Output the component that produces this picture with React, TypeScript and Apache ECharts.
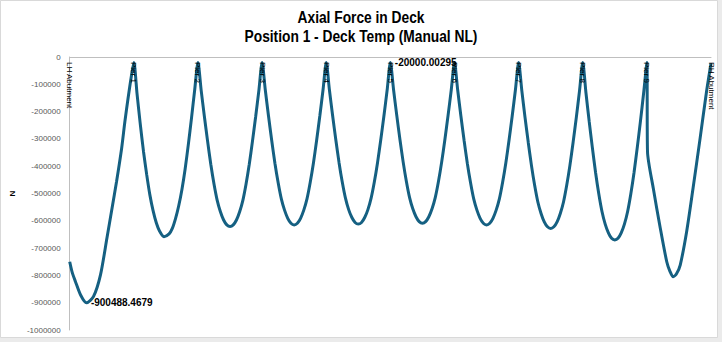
import React, { useEffect, useRef } from "react";
import * as echarts from "echarts";

const titleLines = ["Axial Force in Deck", "Position 1 - Deck Temp (Manual NL)"];
const supportLabels = [
  "LH Abutment", "Pier 1", "Pier 2", "Pier 3", "Pier 4", "Pier 5",
  "Pier 6", "Pier 7", "Pier 8", "Pier 9", "RH Abutment",
];
const yTicks = [0, -100000, -200000, -300000, -400000, -500000, -600000, -700000, -800000, -900000, -1000000];

// [station (span units), axial force N]
const span1 = [
  [0, -750000], [0.04, -790000], [0.09, -823000], [0.17, -872000], [0.26, -900488.4679],
  [0.37, -878000], [0.48, -798000], [0.58, -664000], [0.66, -554000], [0.73, -457000],
  [0.81, -334000], [0.86, -237000], [0.91, -151000], [0.96, -72000], [1.0, -20100],
];
const span2 = [
  [1.05, -135000], [1.1, -245000], [1.15, -345000], [1.2, -430000], [1.25, -505000],
  [1.3, -563000], [1.35, -607000], [1.4, -637000], [1.47, -658000], [1.55, -648000],
  [1.6, -628000], [1.65, -592000], [1.7, -545000], [1.75, -485000], [1.8, -410000],
  [1.85, -320000], [1.9, -222000], [1.95, -118000], [2.0, -20100],
];
const span3 = [
  [2.05, -122000], [2.1, -218000], [2.15, -308000], [2.2, -393000], [2.25, -465000],
  [2.3, -525000], [2.35, -567000], [2.4, -597000], [2.45, -615000], [2.5, -621000],
  [2.55, -615000], [2.6, -597000], [2.65, -567000], [2.7, -525000], [2.75, -465000],
  [2.8, -393000], [2.85, -308000], [2.9, -218000], [2.95, -122000], [3.0, -20100],
];
const span4 = [
  [3.05, -121000], [3.1, -216000], [3.15, -306000], [3.2, -389000], [3.25, -460000],
  [3.3, -520000], [3.35, -561000], [3.4, -591000], [3.45, -609000], [3.5, -615000],
  [3.55, -609000], [3.6, -591000], [3.65, -561000], [3.7, -520000], [3.75, -460000],
  [3.8, -389000], [3.85, -306000], [3.9, -216000], [3.95, -121000], [4.0, -20050],
];
const span5 = [
  [4.05, -121000], [4.1, -215000], [4.15, -304000], [4.2, -387000], [4.25, -458000],
  [4.3, -517000], [4.35, -559000], [4.4, -588000], [4.45, -606000], [4.5, -612000],
  [4.55, -606000], [4.6, -588000], [4.65, -559000], [4.7, -517000], [4.75, -458000],
  [4.8, -387000], [4.85, -304000], [4.9, -215000], [4.95, -121000], [5.0, -20000.00295],
];
const span6 = [
  [5.05, -120000], [5.1, -214000], [5.15, -303000], [5.2, -385000], [5.25, -456000],
  [5.3, -515000], [5.35, -556000], [5.4, -585000], [5.45, -603000], [5.5, -609000],
  [5.55, -603000], [5.6, -585000], [5.65, -556000], [5.7, -515000], [5.75, -456000],
  [5.8, -385000], [5.85, -303000], [5.9, -214000], [5.95, -120000], [6.0, -20050],
];
const span7 = [
  [6.05, -121000], [6.1, -216000], [6.15, -306000], [6.2, -389000], [6.25, -460000],
  [6.3, -520000], [6.35, -561000], [6.4, -591000], [6.45, -609000], [6.5, -615000],
  [6.55, -609000], [6.6, -591000], [6.65, -561000], [6.7, -520000], [6.75, -460000],
  [6.8, -389000], [6.85, -306000], [6.9, -216000], [6.95, -121000], [7.0, -20100],
];
const span8 = [
  [7.05, -123000], [7.1, -221000], [7.15, -312000], [7.2, -397000], [7.25, -470000],
  [7.3, -531000], [7.35, -573000], [7.4, -604000], [7.45, -622000], [7.5, -628000],
  [7.55, -622000], [7.6, -604000], [7.65, -573000], [7.7, -531000], [7.75, -470000],
  [7.8, -397000], [7.85, -312000], [7.9, -221000], [7.95, -123000], [8.0, -20100],
];
const span9 = [
  [8.05, -131000], [8.1, -235000], [8.15, -332000], [8.2, -423000], [8.25, -501000],
  [8.3, -566000], [8.35, -612000], [8.4, -644000], [8.45, -664000], [8.5, -670000],
  [8.55, -664000], [8.6, -644000], [8.65, -612000], [8.7, -566000], [8.75, -501000],
  [8.8, -423000], [8.85, -332000], [8.9, -235000], [8.95, -131000], [9.0, -20100],
];
const span10 = [
  [9.01, -347000], [9.1, -481000], [9.21, -628000], [9.31, -750000], [9.36, -785000],
  [9.41, -805000], [9.46, -795000], [9.52, -762000], [9.62, -640000], [9.72, -481000],
  [9.83, -298000], [9.93, -127000], [10.0, -23000],
];

const minLabel = "-900488.4679";
const maxLabel = "-20000.00295";

export default function App() {
  const ref = useRef<HTMLDivElement>(null);
  useEffect(() => {
    document.body.style.margin = "0";
    if (!ref.current) return;
    const chart = echarts.init(ref.current, null, { renderer: "svg" });
    const all = [...span1, ...span2, ...span3, ...span4, ...span5, ...span6, ...span7, ...span8, ...span9, ...span10];
    const data = all.map((p) => {
      const v = p[1];
      if (String(v) === minLabel || String(v) === maxLabel) {
        return {
          value: p,
          symbol: "circle",
          symbolSize: 1,
          label: {
            show: true,
            position: "right",
            distance: 4,
            formatter: String(v),
            fontSize: 10,
            fontWeight: "bold",
            color: "#000",
          },
        };
      }
      return { value: p, symbol: "none" };
    });
    chart.setOption({
      animation: false,
      textStyle: { fontFamily: "'Liberation Sans', Arial, sans-serif" },
      backgroundColor: "#ebebeb",
      graphic: [
        {
          type: "rect",
          shape: { x: 0.5, y: 0.5, width: 717, height: 337 },
          style: { fill: "#fff", stroke: "#d9d9d9", lineWidth: 1 },
          z: -10,
          silent: true,
        },
        {
          type: "text",
          x: 361,
          y: 7.5,
          scaleX: 0.81,
          style: {
            text: titleLines.join("\n"),
            fontSize: 17,
            lineHeight: 19,
            fontWeight: "bold",
            fontFamily: "'Liberation Sans', Arial, sans-serif",
            fill: "#000",
            align: "center",
            verticalAlign: "top",
          },
        },
      ],
      grid: { left: 66, right: 11, top: 57, bottom: 12, containLabel: false },
      xAxis: {
        type: "value",
        min: 0,
        max: 10,
        interval: 1,
        position: "top",
        z: 5,
        axisLine: { show: true, onZero: false, lineStyle: { color: "#bfbfbf", width: 1 } },
        axisTick: { show: false },
        splitLine: { show: false },
        axisLabel: {
          inside: true,
          rotate: 90,
          margin: 5,
          fontSize: 8,
          color: "#000",
          padding: [5, 0, 0, 0],
          showMinLabel: true,
          showMaxLabel: true,
          hideOverlap: false,
          formatter: (v: number) => supportLabels[Math.round(v)] ?? "",
        },
      },
      yAxis: {
        type: "value",
        min: -1000000,
        max: 0,
        interval: 100000,
        axisLine: { show: true, lineStyle: { color: "#bfbfbf", width: 1 } },
        axisTick: { show: false },
        splitLine: { show: false },
        axisLabel: {
          fontSize: 8,
          color: "#595959",
          margin: 9,
          formatter: (v: number) => (yTicks.includes(v) ? String(v) : ""),
        },
        name: "N",
        nameLocation: "middle",
        nameGap: 50,
        nameTextStyle: { fontSize: 8, fontWeight: "bold", color: "#000" },
      },
      series: [
        {
          type: "line",
          data,
          showSymbol: true,
          smooth: 0.25,
          lineStyle: { color: "#156082", width: 3 },
          itemStyle: { color: "#156082" },
          emphasis: { disabled: true },
        },
      ],
    });
    return () => chart.dispose();
  }, []);
  return <div ref={ref} style={{ width: 722, height: 342 }} />;
}
